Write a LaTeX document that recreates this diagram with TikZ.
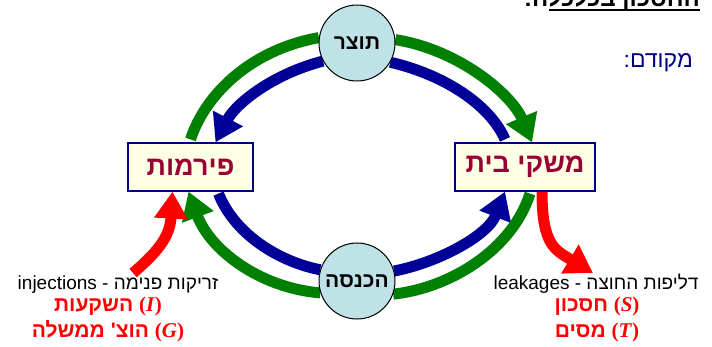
\documentclass[tikz,border=0pt]{standalone}
\usepackage{fontspec}
\setmainfont{Liberation Sans}
\newfontfamily\heb[Script=Hebrew]{Liberation Sans}
\newfontfamily\timesf{Liberation Serif}
\TeXXeTstate=1
\usetikzlibrary{arrows.meta,backgrounds}
\definecolor{flowgreen}{RGB}{0,128,0}
\definecolor{flowblue}{RGB}{0,0,153}
\definecolor{boxred}{RGB}{153,0,51}
\definecolor{circfill}{RGB}{190,226,230}
\definecolor{boxfill}{RGB}{255,255,230}
\definecolor{navytext}{RGB}{0,0,128}
\newcommand{\rtl}[1]{\beginR#1\endR}
\newcommand{\varit}[1]{{\timesf\bfseries(\textit{#1})}}
\begin{document}
\begin{tikzpicture}[x=1pt,y=-1pt,
  circ/.style={circle,draw=black,line width=1pt,fill=circfill,minimum size=76pt,inner sep=0pt,font=\heb\bfseries\fontsize{21}{21}\selectfont},
  sector/.style={draw=navytext,line width=1.2pt,fill=boxfill,minimum height=48pt,inner sep=0pt,text=boxred,font=\heb\bfseries\fontsize{27}{27}\selectfont},
  gflow/.style={draw=flowgreen,line width=11pt},
  bflow/.style={draw=flowblue,line width=11pt},
  rflow/.style={draw=red,line width=11pt},
  bigtip/.style={-{Triangle[width=32pt,length=27pt]}},
  blacklbl/.style={font=\heb\fontsize{19}{19}\selectfont,text=black,inner sep=0pt},
  redlbl/.style={font=\heb\bfseries\fontsize{21}{21}\selectfont,text=red,inner sep=0pt}]
\useasboundingbox (0,0) rectangle (712,347);

% title (cut off at top)
\node[anchor=base east,inner sep=0pt,font=\heb\bfseries\fontsize{24}{24}\selectfont] (title) at (700,7) {\rtl{החסכון בכלכלה:}};
\draw[line width=2pt] (549,10) -- (700,10);

\node[anchor=base east,inner sep=0pt,text=navytext,font=\heb\fontsize{23}{23}\selectfont] (prior) at (693,68) {\rtl{מקודם:}};

\node[circ] (prod) at (357,43) {\rtl{תוצר}};
\node[circ] (inc) at (357,281) {\rtl{הכנסה}};
\node[sector,minimum width=125pt] (firms) at (190.5,167) {\rtl{פירמות}};
\node[sector,minimum width=140pt] (hh) at (525,167) {\rtl{משקי בית}};

\coordinate (injstart) at (133,273);
\coordinate (leakend) at (593,273);

\begin{scope}[on background layer]
  \fill[white] (0,0) rectangle (712,347);
  % top left
  \draw[gflow] (prod.172) .. controls (250,50) and (205,95) .. ([yshift=3pt]firms.north);
  \draw[bflow,bigtip] (prod.208) .. controls (270,75) and (235,105) .. ([xshift=25pt]firms.north);
  % top right
  \draw[gflow,bigtip] (prod.5) .. controls (460,50) and (512,95) .. ([xshift=7pt]hh.north);
  \draw[bflow] (prod.330) .. controls (445,75) and (490,105) .. ([xshift=-20pt,yshift=3pt]hh.north);
  % bottom left
  \draw[bflow] ([xshift=28pt,yshift=-2pt]firms.south) .. controls (235,235) and (280,262) .. (inc.163);
  \draw[gflow,bigtip] (inc.198) .. controls (260,288) and (210,250) .. ([xshift=-2pt]firms.south);
  % bottom right
  \draw[bflow,bigtip] (inc.15) .. controls (440,262) and (488,235) .. ([xshift=-20pt]hh.south);
  \draw[gflow] ([xshift=5pt,yshift=-2pt]hh.south) .. controls (512,250) and (450,288) .. (inc.340);
  % injections / leakages
  \draw[rflow,bigtip] (injstart) .. controls (160,250) and (170,235) .. ([xshift=-18pt]firms.south);
  \draw[rflow,bigtip] ([xshift=17pt]hh.south) .. controls (542,245) and (555,250) .. (leakend);
\end{scope}

\node[blacklbl,anchor=base] (injlbl) at (118,290) {injections - \rtl{זריקות פנימה}};
\node[redlbl,anchor=base] (inv) at (108,312) {\rtl{השקעות} \varit{I}};
\node[redlbl,anchor=base] (gov) at (108,337) {\rtl{הוצ' ממשלה} \varit{G}};
\node[blacklbl,anchor=base] (leaklbl) at (596,290) {leakages - \rtl{דליפות החוצה}};
\node[redlbl,anchor=base] (sav) at (597,312) {\rtl{חסכון} \varit{S}};
\node[redlbl,anchor=base] (tax) at (597,337) {\rtl{מסים} \varit{T}};
\end{tikzpicture}
\end{document}
